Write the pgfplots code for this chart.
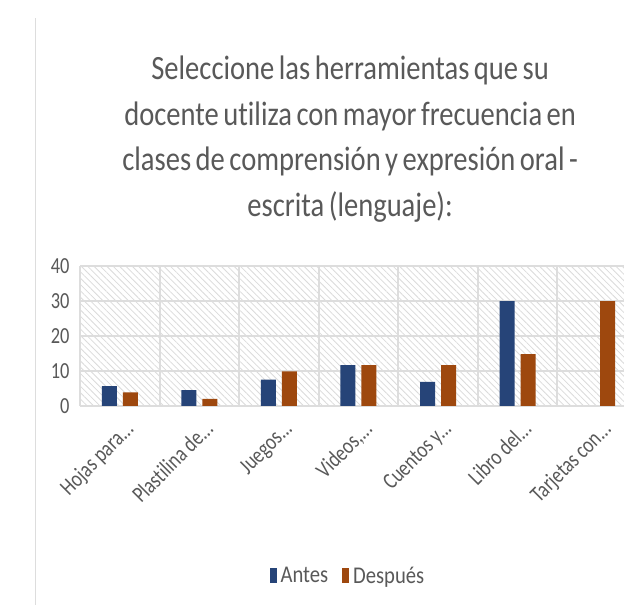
\documentclass[border=0pt]{standalone}
\usepackage{fontspec}
\setmainfont{Carlito}[Ligatures=NoCommon]
\newfontfamily\cfont[FakeStretch=0.8,Ligatures=NoCommon]{Carlito}
\newfontfamily\lfont[FakeStretch=0.86,Ligatures=NoCommon]{Carlito}
\newfontfamily\titlefont[FakeStretch=0.84,WordSpace=0.7,Ligatures=NoCommon]{Carlito}
\usepackage{pgfplots}
\pgfplotsset{compat=1.18}
\usetikzlibrary{patterns.meta}
\definecolor{cblue}{HTML}{264478}
\definecolor{corange}{HTML}{9E480E}
\definecolor{txt}{HTML}{595959}
\definecolor{gridc}{HTML}{DDDDDD}
\begin{document}
\begin{tikzpicture}[x=1pt,y=1pt]
\path[use as bounding box] (0,0) rectangle (624,605);
\clip (0,0) rectangle (624,605);
\fill[white] (0,0) rectangle (624,605);
\draw[gridc, line width=1pt] (35,0) -- (35,587);
\begin{axis}[
  at={(80pt,199pt)}, anchor=south west, scale only axis,
  width=557pt, height=140pt,
  xmin=-0.5, xmax=6.5, ymin=0, ymax=40,
  ytick={0,10,20,30,40},
  xtick={0,1,2,3,4,5,6},
  xticklabels={{Hojas para.{}.{}.}, {Plastilina de.{}.{}.}, {Juegos.{}.{}.}, {Videos,.{}.{}.}, {Cuentos y.{}.{}.}, {Libro del.{}.{}.}, {Tarjetas con.{}.{}.}},
  minor xtick={-0.5,0.5,1.5,2.5,3.5,4.5,5.5,6.5},
  ymajorgrids=true, xminorgrids=true, xmajorgrids=false,
  major grid style={gridc, line width=2pt},
  minor grid style={gridc, line width=2pt},
  axis line style={draw=none},
  major tick length=0pt, minor tick length=0pt,
  axis background/.style={pattern={Lines[angle=-45,distance=4.5pt,line width=0.8pt]}, pattern color=gray!28},
  /pgf/number format/assume math mode=true,
  yticklabel style={font=\cfont\fontsize{23}{23}\selectfont, text=txt, anchor=east, xshift=-7pt},
  xticklabel style={font=\cfont\fontsize{23}{23}\selectfont, text=txt, xshift=4pt, yshift=-13pt, rotate=45, anchor=north east, inner sep=0pt},
  title={Seleccione las herramientas que su\\docente utiliza con mayor frecuencia en\\clases de comprensión y expresión oral -\\escrita (lenguaje):},
  title style={at={(0.485,2.457)}, anchor=north, align=center, inner sep=0pt, font=\titlefont\fontsize{34}{45.5}\selectfont, text=txt},
  legend columns=2,
  legend style={at={(0.481,-1.214)}, anchor=center, draw=none, fill=none, font=\lfont\fontsize{24}{24}\selectfont, text=txt, /tikz/every even column/.append style={column sep=12pt}, /tikz/every odd column/.append style={column sep=2pt}},
  legend image code/.code={\fill[#1] (0pt,-7.5pt) rectangle (7pt,7.5pt);},
]
\addplot[ybar, bar width=15pt, bar shift=-10.5pt, fill=cblue, draw=none] coordinates {(0,5.7) (1,4.5) (2,7.5) (3,11.7) (4,6.9) (5,30)};
\addlegendentry{Antes}
\addplot[ybar, bar width=15pt, bar shift=10.5pt, fill=corange, draw=none] coordinates {(0,3.9) (1,2) (2,9.9) (3,11.7) (4,11.7) (5,14.8) (6,30)};
\addlegendentry{Después}
\end{axis}
\end{tikzpicture}
\end{document}
